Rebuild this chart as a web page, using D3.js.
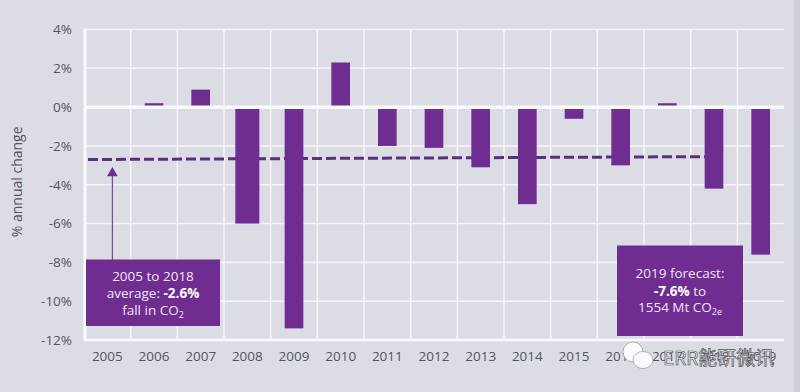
<!DOCTYPE html>
<html>
<head>
<meta charset="utf-8">
<script src="https://cdn.jsdelivr.net/npm/d3@7"></script>
<style>
  html, body { margin: 0; padding: 0; background: #dcdce5; overflow: hidden; }
  text { font-family: "Open Sans", sans-serif; }
</style>
</head>
<body>
<script>
// values
const years = [2005, 2006, 2007, 2008, 2009, 2010, 2011, 2012, 2013, 2014, 2015, 2016, 2017, 2018, 2019];
const changes = [null, 0.2, 0.9, -6.0, -11.4, 2.3, -2.0, -2.1, -3.1, -5.0, -0.6, -3.0, 0.2, -4.2, -7.6];
const yTicks = [4, 2, 0, -2, -4, -6, -8, -10, -12];
const avgYears = [2005, 2018];
const avgValues = [-2.7, -2.55];

const purple = "#6f2c91";
const dark = "#5b2f80";
const grey = "#54545e";

const width = 800, height = 392;
const margin = {top: 29.5, right: 16, bottom: 52, left: 84};

const svg = d3.select("body")
    .append("svg")
    .attr("width", width)
    .attr("height", height)
    .style("display", "block");

// slightly darker strip down the right edge, as in the scan
svg.append("rect").attr("x", 794).attr("y", 0).attr("width", 6).attr("height", height).attr("fill", "#cfcfd8");

const x = d3.scaleBand()
    .domain(years)
    .range([margin.left, width - margin.right]);
const barW = x.step() * 0.4;

const y = d3.scaleLinear()
    .domain([-12, 4])
    .range([height - margin.bottom, margin.top]);

// grid
svg.append("g").selectAll("line")
    .data(yTicks)
    .enter().append("line")
    .attr("x1", margin.left).attr("x2", width - margin.right)
    .attr("y1", d => y(d)).attr("y2", d => y(d))
    .attr("stroke", "#f4f4f8").attr("stroke-width", 1.6);
svg.append("g").selectAll("line")
    .data(years.slice(1))
    .enter().append("line")
    .attr("x1", d => x(d)).attr("x2", d => x(d))
    .attr("y1", y(4)).attr("y2", y(-12))
    .attr("stroke", "#f4f4f8").attr("stroke-width", 1.6);
svg.append("line")
    .attr("x1", margin.left + 1).attr("x2", margin.left + 1)
    .attr("y1", y(4) - 1).attr("y2", y(-12) + 1)
    .attr("stroke", "#fafafc").attr("stroke-width", 3);
svg.append("line")
    .attr("x1", margin.left).attr("x2", width - margin.right)
    .attr("y1", y(-12)).attr("y2", y(-12))
    .attr("stroke", "#fafafc").attr("stroke-width", 2.5);

// average line runs behind the bars
const avgLine = d3.line()
    .x((d, i) => x(d) + (i === 0 ? 4 : x.bandwidth() / 2))
    .y((d, i) => y(avgValues[i]));
svg.append("path")
    .datum(avgYears)
    .attr("d", avgLine)
    .attr("fill", "none")
    .attr("stroke", dark)
    .attr("stroke-width", 3)
    .attr("stroke-dasharray", "10 4");

// bars
const barData = years.map((d, i) => ({year: d, value: changes[i]})).filter(d => d.value !== null);
svg.append("g").selectAll("rect")
    .data(barData)
    .enter().append("rect")
    .attr("x", d => x(d.year) + x.bandwidth() / 2 - (d.year === 2008 ? 12 : barW / 2))
    .attr("width", d => d.year === 2008 ? 24 : barW)
    .attr("y", d => y(Math.max(0, d.value)))
    .attr("height", d => Math.abs(y(d.value) - y(0)))
    .attr("fill", purple);

// zero line sits on top of the bars
svg.append("line")
    .attr("x1", margin.left).attr("x2", width - margin.right)
    .attr("y1", y(0)).attr("y2", y(0))
    .attr("stroke", "#fafafc").attr("stroke-width", 3.5);

// axes
const yAxis = svg.append("g")
    .attr("transform", `translate(${margin.left},0)`)
    .call(d3.axisLeft(y).tickValues(yTicks).tickSize(0).tickPadding(12).tickFormat(d => d + "%"));
const xAxis = svg.append("g")
    .attr("transform", `translate(0,${height - margin.bottom})`)
    .call(d3.axisBottom(x).tickSize(0).tickPadding(11));
[yAxis, xAxis].forEach(function(a) {
    a.select(".domain").remove();
    a.selectAll("text").attr("fill", grey).style("font-size", "13.5px");
});

svg.append("text")
    .attr("transform", `translate(22,${y(-3.85)}) rotate(-90)`)
    .attr("text-anchor", "middle")
    .attr("fill", grey)
    .style("font-size", "14px")
    .text("% annual change");

// arrow from the box up to the average line
const arrowX = x(2005) + x.bandwidth() / 2 + 5;
svg.append("line")
    .attr("x1", arrowX).attr("x2", arrowX)
    .attr("y1", y(-8)).attr("y2", y(-3.3))
    .attr("stroke", dark).attr("stroke-width", 1);
svg.append("path")
    .attr("d", d3.symbol(d3.symbolTriangle, 50))
    .attr("transform", `translate(${arrowX},${y(-3.4)})`)
    .attr("fill", purple);

// annotation boxes
function box(x0, x1, y0, y1, lines) {
    const g = svg.append("g");
    g.append("rect")
        .attr("x", x0).attr("y", y0)
        .attr("width", x1 - x0).attr("height", y1 - y0)
        .attr("fill", purple);
    lines.forEach(function(line, i) {
        const t = g.append("text")
            .attr("x", (x0 + x1) / 2)
            .attr("y", line.y)
            .attr("text-anchor", "middle")
            .attr("fill", "#efe6f4")
            .style("font-size", "13.5px");
        line.parts.forEach(function(p) {
            const s = t.append("tspan").text(p.t);
            if (p.b) s.attr("font-weight", 700).attr("fill", "#fff");
            if (p.sub) s.attr("dy", 3).style("font-size", "9px");
        });
    });
}

box(86, 220, 259.5, 326, [
    {y: 281, parts: [{t: "2005 to 2018"}]},
    {y: 298, parts: [{t: "average: "}, {t: "-2.6%", b: true}]},
    {y: 315, parts: [{t: "fall in CO"}, {t: "2", sub: true}]}
]);
box(617, 743, 245.5, 336, [
    {y: 278, parts: [{t: "2019 forecast:"}]},
    {y: 296, parts: [{t: "-7.6%", b: true}, {t: " to"}]},
    {y: 312, parts: [{t: "1554 Mt CO"}, {t: "2e", sub: true}]}
]);

// watermark over the last tick labels
const mark = svg.append("g");
mark.append("text")
    .attr("x", 663).attr("y", 365)
    .attr("fill", "#f2f2f5")
    .attr("stroke", "#55555c").attr("stroke-width", 0.7)
    .style("font-family", '"Noto Sans CJK SC", sans-serif')
    .style("font-size", "19px")
    .text("ERR能研微讯");
[[633, 352, 10, 10], [643, 360, 10, 8.5]].forEach(function(b) {
    mark.append("ellipse")
        .attr("cx", b[0]).attr("cy", b[1]).attr("rx", b[2]).attr("ry", b[3])
        .attr("fill", "#fbfbfb").attr("stroke", "#8a8a90").attr("stroke-width", 0.6);
});
</script>
</body>
</html>
